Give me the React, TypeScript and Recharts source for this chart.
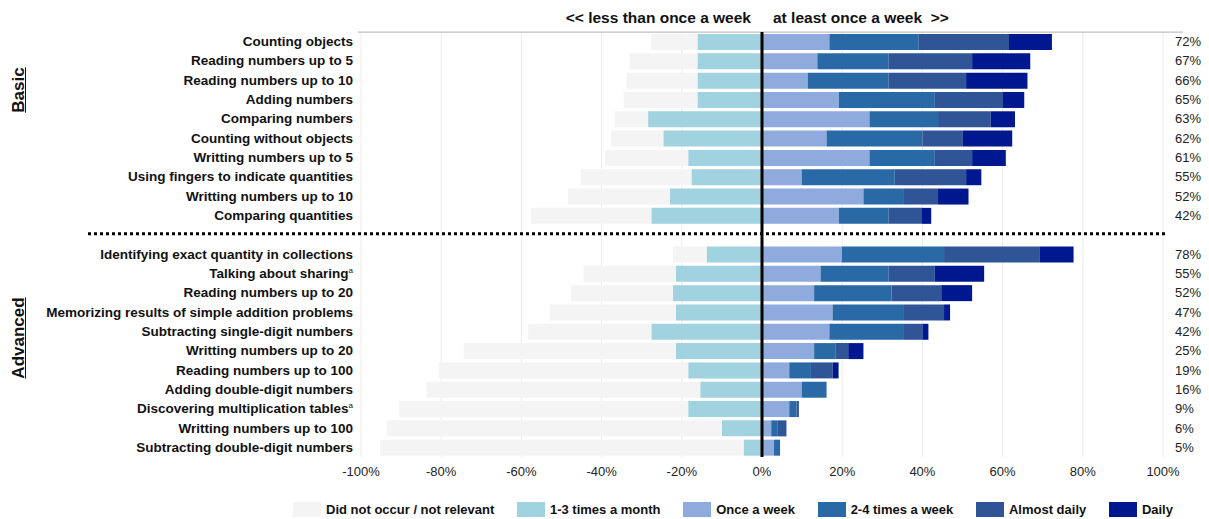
import React from 'react';
import { BarChart, Bar, XAxis, YAxis, CartesianGrid, ReferenceLine } from 'recharts';

const FONT = '"Liberation Sans", Arial, Helvetica, sans-serif';

// skills, top to bottom
const basicSkills = [
  'Counting objects',
  'Reading numbers up to 5',
  'Reading numbers up to 10',
  'Adding numbers',
  'Comparing numbers',
  'Counting without objects',
  'Writting numbers up to 5',
  'Using fingers to indicate quantities',
  'Writting numbers up to 10',
  'Comparing quantities',
];
const advancedSkills = [
  'Identifying exact quantity in collections',
  'Talking about sharing',
  'Reading numbers up to 20',
  'Memorizing results of simple addition problems',
  'Subtracting single-digit numbers',
  'Writting numbers up to 20',
  'Reading numbers up to 100',
  'Adding double-digit numbers',
  'Discovering multiplication tables',
  'Writting numbers up to 100',
  'Subtracting double-digit numbers',
];
const footnoted = ['Talking about sharing', 'Discovering multiplication tables'];

// share of children (%), basic skills then advanced skills
const notOccurred = [11.5, 16.9, 17.7, 18.4, 8.4, 13.0, 20.8, 27.6, 25.4, 30.0,
  8.4, 23.0, 25.4, 31.4, 30.7, 52.9, 62.2, 68.3, 72.1, 83.6, 90.7];
const monthly = [16.1, 16.1, 16.1, 16.1, 28.4, 24.6, 18.4, 17.6, 23.0, 27.6,
  13.8, 21.5, 22.2, 21.5, 27.6, 21.5, 18.4, 15.4, 18.4, 10.0, 4.6];
const onceWeek = [16.8, 13.8, 11.4, 19.2, 26.8, 16.1, 26.8, 9.9, 25.3, 19.2,
  19.9, 14.6, 13.0, 17.6, 16.8, 13.0, 6.8, 9.9, 6.8, 2.3, 3.0];
const twoToFour = [22.3, 17.8, 20.2, 23.9, 17.1, 23.9, 16.3, 23.2, 10.1, 12.4,
  25.5, 17.0, 19.3, 17.8, 18.6, 5.4, 5.4, 6.2, 1.8, 1.5, 1.5];
const almostDaily = [22.5, 20.8, 19.3, 17.0, 13.1, 10.1, 9.3, 17.8, 8.5, 8.3,
  23.9, 11.5, 12.4, 10.0, 4.6, 3.1, 5.4, 0, 0.6, 2.3, 0];
const daily = [10.7, 14.5, 15.3, 5.3, 6.1, 12.3, 8.4, 3.8, 7.6, 2.3,
  8.4, 12.3, 7.7, 1.5, 1.5, 3.8, 1.5, 0, 0, 0, 0];
const atLeastWeekly = [72, 67, 66, 65, 63, 62, 61, 55, 52, 42,
  78, 55, 52, 47, 42, 25, 19, 16, 9, 6, 5];

const xTicks = [-100, -80, -60, -40, -20, 0, 20, 40, 60, 80, 100];

const series = [
  { key: 'notOccurred', name: 'Did not occur / not relevant', color: '#f4f4f4' },
  { key: 'monthly', name: '1-3 times a month', color: '#a0d2e0' },
  { key: 'onceWeek', name: 'Once a week', color: '#8faadc' },
  { key: 'twoToFour', name: '2-4 times a week', color: '#2869a6' },
  { key: 'almostDaily', name: 'Almost daily', color: '#2f5597' },
  { key: 'daily', name: 'Daily', color: '#00188f' },
];
// stacking order: left side grows outward from 0, then right side
const stackOrder = ['monthly', 'notOccurred', 'onceWeek', 'twoToFour', 'almostDaily', 'daily'];

const makeRow = (label: string, i: number) => ({
  id: label,
  label,
  note: footnoted.includes(label),
  pct: atLeastWeekly[i] + '%',
  notOccurred: -notOccurred[i],
  monthly: -monthly[i],
  onceWeek: onceWeek[i],
  twoToFour: twoToFour[i],
  almostDaily: almostDaily[i],
  daily: daily[i],
});
const data = [
  ...basicSkills.map((s, i) => makeRow(s, i)),
  { id: 'gap', label: '', note: false, pct: '', notOccurred: 0, monthly: 0, onceWeek: 0, twoToFour: 0, almostDaily: 0, daily: 0 },
  ...advancedSkills.map((s, i) => makeRow(s, basicSkills.length + i)),
];
const rowById: Record<string, any> = {};
data.forEach((r) => (rowById[r.id] = r));

const SkillTick = (props: any) => {
  const { x, y, payload } = props;
  const row = rowById[payload.value];
  if (!row || !row.label) return <g />;
  return (
    <text x={x} y={y} dy={4.5} textAnchor="end" fontSize={13.5} fontWeight="bold" fill="#111" fontFamily={FONT}>
      {row.label}
      {row.note && <tspan dy={-5} fontSize={8} fontWeight="normal">a</tspan>}
    </text>
  );
};

const PctTick = (props: any) => {
  const { x, y, payload } = props;
  const row = rowById[payload.value];
  if (!row || !row.pct) return <g />;
  return (
    <text x={x} y={y} dy={4.5} textAnchor="start" fontSize={13} fill="#222" fontFamily={FONT}>
      {row.pct}
    </text>
  );
};

const DottedDivider = (props: any) => {
  const { x1, x2, y1 } = props;
  return <line x1={x1 - 273} x2={x2 + 2} y1={y1 - 1} y2={y1 - 1} stroke="#000" strokeWidth={3} strokeDasharray="3 3" />;
};

// top border runs a little past the plot on the right
const TopBorder = (props: any) => {
  const { x1, x2, y1 } = props;
  return <line x1={x1 - 3} x2={x2 + 20} y1={y1} y2={y1} stroke="#c0c0c0" strokeWidth={1.2} />;
};

const groupTitle: React.CSSProperties = {
  position: 'absolute',
  left: 11,
  transform: 'translate(-50%, -50%) rotate(-90deg)',
  fontFamily: FONT,
  fontWeight: 'bold',
  fontSize: 17,
  textDecoration: 'underline',
  color: '#111',
  whiteSpace: 'nowrap',
};

const headerStyle: React.CSSProperties = {
  position: 'absolute',
  top: 1,
  fontFamily: FONT,
  fontWeight: 'bold',
  fontSize: 15.5,
  color: '#111',
  whiteSpace: 'pre',
};

export default function App() {
  return (
    <div style={{ position: 'relative', width: 1201, height: 511, fontFamily: FONT }}>
      <div style={{ ...headerStyle, right: 1201 - 743 }}>{'<< less than once a week'}</div>
      <div style={{ ...headerStyle, left: 765 }}>{'at least once a week  >>'}</div>
      <div style={{ ...groupTitle, top: 82 }}>Basic</div>
      <div style={{ ...groupTitle, top: 330 }}>Advanced</div>

      <BarChart
        width={1201}
        height={480}
        data={data}
        layout="vertical"
        stackOffset="sign"
        barSize={16}
        margin={{ top: 24, right: 0, left: 0, bottom: 0 }}
      >
        <CartesianGrid horizontal={false} stroke="#ececec" />
        <XAxis
          type="number"
          domain={[-100, 100]}
          ticks={xTicks}
          tickFormatter={(v: number) => v + '%'}
          axisLine={false}
          tickLine={false}
          height={31}
          tickMargin={4}
          tick={{ fontSize: 13, fill: '#222', fontFamily: FONT }}
          interval={0}
        />
        <YAxis
          type="category"
          dataKey="id"
          width={353}
          axisLine={false}
          tickLine={false}
          tickSize={0}
          tickMargin={8}
          interval={0}
          tick={<SkillTick />}
        />
        <YAxis
          yAxisId="pct"
          orientation="right"
          type="category"
          dataKey="id"
          width={46}
          axisLine={false}
          tickLine={false}
          tickSize={0}
          tickMargin={12}
          interval={0}
          tick={<PctTick />}
        />
        {stackOrder.map((key) => {
          const s = series.find((d) => d.key === key)!;
          return (
            <Bar key={key} dataKey={key} name={s.name} stackId="freq" fill={s.color} isAnimationActive={false} />
          );
        })}
        <ReferenceLine segment={[{ x: -100, y: basicSkills[0] }, { x: 100, y: basicSkills[0] }]} shape={(p: any) => <TopBorder {...p} y1={p.y1 - 9.6} />} />
        <ReferenceLine y="gap" shape={<DottedDivider />} />
        <ReferenceLine x={0} stroke="#000" strokeWidth={3} />
      </BarChart>

      <div
        style={{
          position: 'absolute',
          left: 285,
          width: 880,
          top: 494,
          display: 'flex',
          justifyContent: 'space-between',
          alignItems: 'center',
        }}
      >
        {series.map((s) => (
          <div key={s.key} style={{ display: 'flex', alignItems: 'center' }}>
            <span style={{ display: 'inline-block', width: 28, height: 15, background: s.color, marginRight: 5 }} />
            <span style={{ fontSize: 13, fontWeight: 'bold', color: '#111' }}>{s.name}</span>
          </div>
        ))}
      </div>
    </div>
  );
}
